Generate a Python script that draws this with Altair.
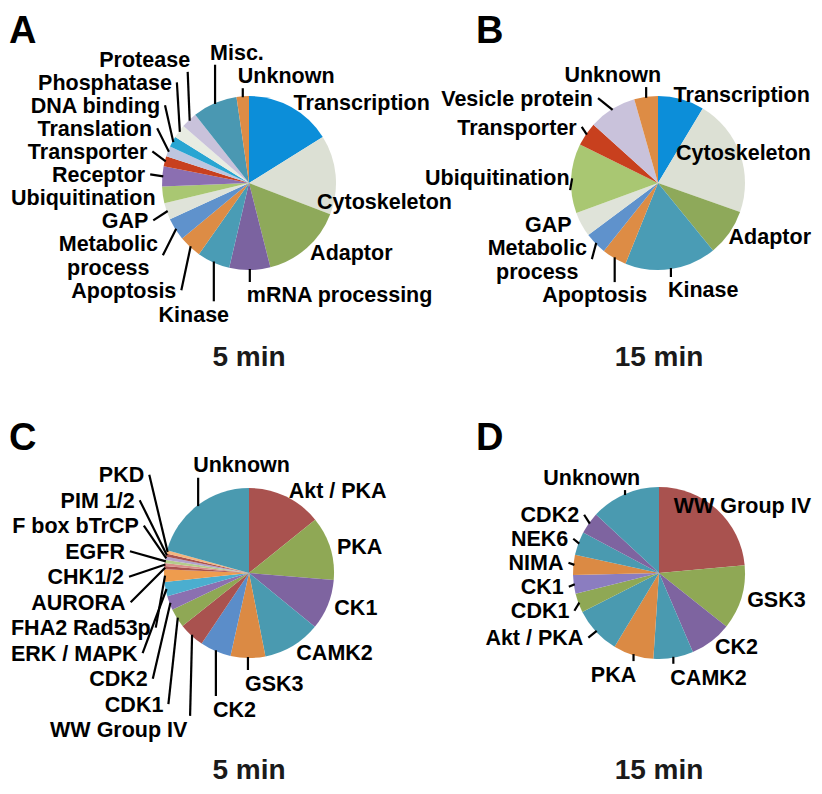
import math
import altair as alt
import pandas as pd

# ---------------- data (percent of each pie) ----------------
A_NAMES = ["Transcription", "Cytoskeleton", "Adaptor", "mRNA processing", "Kinase",
           "Apoptosis", "Metabolic\nprocess", "GAP", "Ubiquitination", "Receptor",
           "Transporter", "Translation", "DNA binding", "Phosphatase", "Protease",
           "Misc.", "Unknown"]
A_PCT = [16.1, 14.7, 15.2, 7.6, 6.1, 4.2, 4.2, 3.1, 3.1, 3.7, 1.9, 1.9, 2.0, 2.5, 3.0, 8.3, 2.3]
A_COLORS = ["#0C8ED9", "#DCE0D4", "#8EA95A", "#7B63A0", "#4A9CB5", "#DD8C45", "#5F92CC",
            "#DFE3D9", "#A9C772", "#8B6FB1", "#C8401E", "#BDC6DF", "#28A5D2", "#E8ECE2",
            "#C9C2DB", "#4A98B2", "#DD8C45"]

B_NAMES = ["Transcription", "Cytoskeleton", "Adaptor", "Kinase", "Apoptosis",
           "Metabolic\nprocess", "GAP", "Ubiquitination", "Transporter",
           "Vesicle protein", "Unknown"]
B_PCT = [8.6, 21.8, 8.7, 17.0, 4.6, 4.1, 4.6, 12.9, 4.4, 8.9, 4.4]
B_COLORS = ["#0C8ED9", "#DCE0D4", "#8EA95A", "#4A9CB5", "#DD8C45", "#5F92CC",
            "#DFE3D9", "#A9C772", "#C8401E", "#C9C2DB", "#DD8C45"]

C_NAMES = ["Akt / PKA", "PKA", "CK1", "CAMK2", "GSK3", "CK2", "WW Group IV", "CDK1",
           "CDK2", "ERK / MAPK", "FHA2 Rad53p", "AURORA", "CHK1/2", "EGFR",
           "F box bTrCP", "PIM 1/2", "PKD", "Unknown"]
C_PCT = [14.2, 12.1, 9.6, 11.0, 6.6, 5.9, 4.9, 3.6, 2.7, 2.7, 2.4,
         0.6, 0.6, 0.6, 0.6, 0.6, 0.6, 20.7]
C_COLORS = ["#A9524F", "#8FA855", "#7E64A0", "#4A9AB0", "#DB8A44", "#5B8DC9", "#A9524F",
            "#8FA855", "#8B70B0", "#4BAECF", "#EE9C4E", "#A9524F", "#D98F8A", "#B5CC8A",
            "#B3A1CC", "#A9524F", "#F5B57E", "#4A9AB0"]

D_NAMES = ["WW Group IV", "GSK3", "CK2", "CAMK2", "PKA", "Akt / PKA", "CDK1", "CK1",
           "NIMA", "NEK6", "CDK2", "Unknown"]
D_PCT = [23.6, 12.1, 7.9, 7.5, 7.6, 8.9, 3.6, 3.5, 3.8, 4.4, 4.1, 13.1]
D_COLORS = ["#A9524F", "#8FA855", "#7E64A0", "#4A9AB0", "#DB8A44", "#4A9AB0", "#8FA855",
            "#8B7DC0", "#DB8A44", "#4A9AB0", "#7E64A0", "#4A9AB0"]

PANEL_LETTERS = ["A", "B", "C", "D"]
CAPTIONS = ["5 min", "15 min", "5 min", "15 min"]

# ---------------- layout / style ----------------
W, H, M = 806, 778, 8
FONT = "Liberation Sans"
FS = 21.5
LINE_H = 24
XS = alt.Scale(domain=[M, M + W], nice=False, zero=False)
YS = alt.Scale(domain=[M, M + H], nice=False, zero=False, reverse=True)

# Arial/Liberation Sans Bold advance widths (1/1000 em), used to keep labels inside panels
BOLD_W = {' ': 278, '.': 278, '/': 278, '1': 556, '2': 556, '3': 556, '4': 556, '5': 556, '6': 556,
          'A': 722, 'B': 722, 'C': 722, 'D': 722, 'E': 667, 'F': 611, 'G': 778, 'H': 722, 'I': 278,
          'J': 556, 'K': 722, 'L': 611, 'M': 833, 'N': 722, 'O': 778, 'P': 667, 'Q': 778, 'R': 722,
          'S': 667, 'T': 611, 'U': 722, 'V': 667, 'W': 944, 'X': 667, 'Y': 667, 'Z': 611,
          'a': 556, 'b': 611, 'c': 556, 'd': 611, 'e': 556, 'f': 333, 'g': 611, 'h': 611, 'i': 278,
          'j': 278, 'k': 556, 'l': 278, 'm': 889, 'n': 611, 'o': 611, 'p': 611, 'q': 611, 'r': 389,
          's': 556, 't': 333, 'u': 611, 'v': 556, 'w': 778, 'x': 556, 'y': 556, 'z': 500}


def text_w(s, fs=FS):
    return max(sum(BOLD_W.get(ch, 556) for ch in line) for line in s.split("\n")) * fs / 1000.0


PIES = [
    dict(names=A_NAMES, vals=A_PCT, colors=A_COLORS, cx=249, cy=183, R=87, lh=23,
         top=330, b0=160, b1=212, bsplit=185, gr=5, rn=100, lshift=-9, rxl=104, ryl=150,
         xmin=11, xmax=452, gt=10, gb=14, talign="left", letter=(9, 43), cap=(249, 366)),
    dict(names=B_NAMES, vals=B_PCT, colors=B_COLORS, cx=658, cy=183, R=87, lh=23,
         top=340, b0=160, b1=212, bsplit=185, gr=5, rn=100, lshift=0, rxl=92, ryl=120,
         xmin=425, xmax=811, gt=10, gb=10, talign="right", letter=(476, 43), cap=(659, 366)),
    dict(names=C_NAMES, vals=C_PCT, colors=C_COLORS, cx=249, cy=573, R=85, lh=25.5,
         top=320, b0=160, b1=212, bsplit=999, gr=7, rn=136, lshift=18, rxl=125, ryl=180,
         xmin=11, xmax=400, gt=28, gb=14, talign="left", letter=(9, 450), cap=(249, 779)),
    dict(names=D_NAMES, vals=D_PCT, colors=D_COLORS, cx=659, cy=573, R=86, lh=24,
         top=330, b0=160, b1=212, bsplit=185, gr=6, rn=95, lshift=0, rxl=96, ryl=105,
         xmin=480, xmax=811, gt=6, gb=8, talign="right", letter=(476, 450), cap=(659, 779)),
]


def relax(group):
    group.sort(key=lambda it: it["yc"])
    for _ in range(2000):
        moved = False
        for a, b in zip(group, group[1:]):
            need = (a["h"] + b["h"]) / 2.0
            d = b["yc"] - a["yc"] - need
            if d < -0.01:
                a["yc"] += d / 2.0
                b["yc"] -= d / 2.0
                moved = True
        if not moved:
            break


def box_of(it):
    return (it["x0"], it["x1"], it["yc"] - it["h"] / 2, it["yc"] + it["h"] / 2)


def collide(b, boxes, pad=2):
    for o in boxes:
        if b[0] < o[1] + pad and o[0] < b[1] + pad and b[2] < o[3] and o[2] < b[3]:
            return o
    return None


def layout(p, pid):
    cx, cy, R = p["cx"], p["cy"], p["R"]
    total = float(sum(p["vals"]))
    items, cum = [], 0.0
    for nm, v in zip(p["names"], p["vals"]):
        deg = (cum + v / 2.0) / total * 360.0
        cum += v
        t = math.radians(deg)
        s, c = math.sin(t), math.cos(t)
        nl = nm.count("\n") + 1
        it = dict(pid=pid, name=nm, deg=deg, s=s, c=c, px=cx + (R - 1) * s, py=cy - (R - 1) * c,
                  w=text_w(nm), nl=nl, h=p["lh"] + (nl - 1) * LINE_H)
        if deg >= p["top"]:
            it["kind"] = "top"
        elif p["b0"] <= deg <= p["b1"]:
            it["kind"] = "bottom"
        else:
            it["kind"] = "right" if s > 0 else "left"
        items.append(it)

    boxes = []
    right = [it for it in items if it["kind"] == "right"]
    rr = R + p["gr"]
    for it in right:
        it["yc"] = cy - rr * it["c"]
    relax(right)
    for it in right:
        dy = it["yc"] - cy
        x0 = cx + math.sqrt(max(0.0, rr * rr - dy * dy))
        x0 = min(x0, p["xmax"] - it["w"])
        it["x0"], it["x1"] = x0, x0 + it["w"]
        boxes.append(box_of(it))

    left = [it for it in items if it["kind"] == "left"]
    for it in left:
        it["yc"] = cy - p["rn"] * it["c"] + p["lshift"]
    relax(left)
    for it in left:
        dy = it["yc"] - cy
        x1 = cx - p["rxl"] * math.sqrt(max(0.0, 1 - (dy / p["ryl"]) ** 2))
        x1 = max(x1, p["xmin"] + it["w"])
        it["x0"], it["x1"] = x1 - it["w"], x1
        boxes.append(box_of(it))

    tops = sorted([it for it in items if it["kind"] == "top"], key=lambda it: 360 - it["deg"])
    for it in tops:
        if p["talign"] == "left":
            x0 = it["px"] - 5
        else:
            x0 = it["px"] + 15 - it["w"]
        yb = it["py"] - p["gt"]
        for _ in range(50):
            b = (x0, x0 + it["w"], yb - it["h"], yb)
            o = collide(b, boxes)
            if o is None:
                break
            yb = o[2] - 0.5
        it["x0"], it["x1"], it["yc"] = x0, x0 + it["w"], yb - it["h"] / 2
        boxes.append(box_of(it))

    bots = sorted([it for it in items if it["kind"] == "bottom"], key=lambda it: abs(it["deg"] - 180))
    for it in bots:
        if it["deg"] <= p["bsplit"]:
            x0 = it["px"] - 3
        else:
            x0 = it["px"] - 20 - it["w"] / 2
        yt = it["py"] + p["gb"]
        for _ in range(50):
            b = (x0, x0 + it["w"], yt, yt + it["h"])
            o = collide(b, boxes)
            if o is None:
                break
            yt = o[3] + 0.5
        it["x0"], it["x1"], it["yc"] = x0, x0 + it["w"], yt + it["h"] / 2
        boxes.append(box_of(it))
    return items


def emit(items):
    texts, lines = [], []
    for it in items:
        yc, h = it["yc"], it["h"]
        base = yc + 0.36 * FS - (it["nl"] - 1) * LINE_H / 2.0
        if it["nl"] > 1:
            texts.append(dict(x=(it["x0"] + it["x1"]) / 2, y=base, text=it["name"], align="center"))
        elif it["kind"] == "left":
            texts.append(dict(x=it["x1"], y=base, text=it["name"], align="right"))
        else:
            texts.append(dict(x=it["x0"], y=base, text=it["name"], align="left"))

        px, py = it["px"], it["py"]
        if it["kind"] == "left":
            ex, ey = it["x1"] + 5, yc
            if ex > px - 2:
                ex = px - 2
                ey = (yc + h / 2 + 1) if yc < py else (yc - h / 2 - 1)
            if math.hypot(ex - px, ey - py) > 6:
                lines.append(dict(x=px, y=py, x2=ex, y2=ey))
        elif it["kind"] == "right":
            ex = it["x0"] - 5
            if ex > px + 8:
                lines.append(dict(x=px, y=py, x2=ex, y2=yc))
        elif it["kind"] == "top":
            ey = yc + h / 2 + 1
            if py - ey > 4:
                lines.append(dict(x=px, y=py, x2=px, y2=ey))
        else:
            ey = yc - h / 2 - 1
            if ey - py > 4:
                lines.append(dict(x=px, y=py, x2=px, y2=ey))
    return texts, lines


all_items = []
for pid, p in enumerate(PIES):
    all_items += layout(p, pid)

# labels of neighbouring panels must not run into each other: push them down
for it in all_items:
    if it["kind"] != "right":
        continue
    others = [box_of(o) for o in all_items if o["pid"] != it["pid"]]
    for _ in range(50):
        o = collide(box_of(it), others)
        if o is None:
            break
        it["yc"] = o[3] + it["h"] / 2 + 0.5

all_texts, all_lines = emit(all_items)

layers = []
for p in PIES:
    df = pd.DataFrame({"idx": list(range(len(p["names"]))), "name": p["names"], "pct": p["vals"]})
    layers.append(
        alt.Chart(df).mark_arc(radius=p["R"]).encode(
            theta=alt.Theta("pct:Q", stack=True),
            order=alt.Order("idx:Q"),
            color=alt.Color("name:N", scale=alt.Scale(domain=p["names"], range=p["colors"]), legend=None),
            x=alt.XDatum(p["cx"], type="quantitative", scale=XS, axis=None),
            y=alt.YDatum(p["cy"], type="quantitative", scale=YS, axis=None),
        )
    )

lines_df = pd.DataFrame(all_lines)
layers.append(
    alt.Chart(lines_df).mark_rule(color="black", strokeWidth=2.2).encode(
        x=alt.X("x:Q", scale=XS, axis=None), y=alt.Y("y:Q", scale=YS, axis=None),
        x2="x2:Q", y2="y2:Q")
)

text_df = pd.DataFrame(all_texts)
for al in ["left", "right", "center"]:
    sub = text_df[text_df["align"] == al]
    if len(sub) == 0:
        continue
    layers.append(
        alt.Chart(sub).mark_text(align=al, baseline="alphabetic", font=FONT, fontSize=FS,
                                 fontWeight="bold", lineBreak="\n", lineHeight=LINE_H,
                                 color="black").encode(
            x=alt.X("x:Q", scale=XS, axis=None), y=alt.Y("y:Q", scale=YS, axis=None),
            text="text:N")
    )

letters_df = pd.DataFrame({"x": [p["letter"][0] for p in PIES], "y": [p["letter"][1] for p in PIES],
                           "text": PANEL_LETTERS})
layers.append(
    alt.Chart(letters_df).mark_text(align="left", baseline="alphabetic", font=FONT, fontSize=38,
                                    fontWeight="bold", color="black").encode(
        x=alt.X("x:Q", scale=XS, axis=None), y=alt.Y("y:Q", scale=YS, axis=None), text="text:N")
)
caps_df = pd.DataFrame({"x": [p["cap"][0] for p in PIES], "y": [p["cap"][1] for p in PIES],
                        "text": CAPTIONS})
layers.append(
    alt.Chart(caps_df).mark_text(align="center", baseline="alphabetic", font=FONT, fontSize=28,
                                 fontWeight="bold", color="#1a1a1a").encode(
        x=alt.X("x:Q", scale=XS, axis=None), y=alt.Y("y:Q", scale=YS, axis=None), text="text:N")
)

chart = alt.layer(*layers).resolve_scale(theta="independent", color="independent").properties(
    width=W, height=H, autosize=alt.AutoSizeParams(type="none"), padding=0
).configure_view(stroke=None)

chart.save("out.html", embed_options={"renderer": "svg", "actions": False})
